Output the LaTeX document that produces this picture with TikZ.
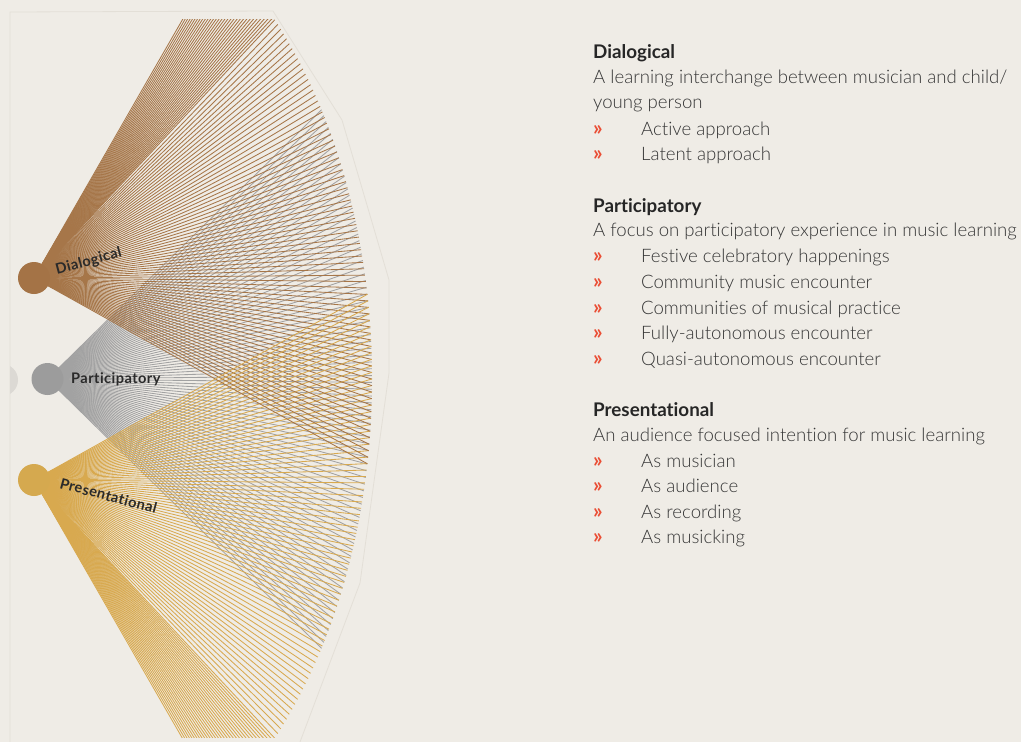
\documentclass[tikz,border=0pt]{standalone}
\usepackage{fontspec}
\setmainfont{Lato}[Ligatures=NoCommon]
\IfFontExistsTF{Lato Light}{\newfontfamily\bodyfont{Lato Light}[Ligatures=NoCommon]}{\newfontfamily\bodyfont{Lato}[Ligatures=NoCommon]}
\newfontfamily\labfont{Lato}[Ligatures=NoCommon, LetterSpace=3]
\definecolor{bg}{HTML}{EFECE6}
\definecolor{brownc}{HTML}{A47346}
\definecolor{greyc}{HTML}{9C9C9C}
\definecolor{goldc}{HTML}{D5A94F}
\definecolor{brownl}{HTML}{A67649}
\definecolor{greyl}{HTML}{A2A2A2}
\definecolor{goldl}{HTML}{D8A94F}
\definecolor{faint}{HTML}{E3DFD7}
\definecolor{ghost}{HTML}{DCD9D4}
\definecolor{bulletc}{HTML}{EA4E35}
\definecolor{headc}{HTML}{262626}
\definecolor{bodyc}{HTML}{363636}
\definecolor{labc}{HTML}{2A2A2A}
\tikzset{
  headtxt/.style={anchor=base west, inner sep=0pt, text=headc, font=\fontsize{18.8}{22}\selectfont\bfseries},
  bodytxt/.style={anchor=base west, inner sep=0pt, text=bodyc, font=\bodyfont\fontsize{18.6}{22}\selectfont},
  bul/.style={anchor=base west, inner sep=0pt, text=bulletc, font=\fontsize{21}{22}\selectfont\bfseries},
  hub/.style={circle, inner sep=0pt, minimum size=32pt},
  fanlabel/.style={anchor=base west, inner sep=0pt, text=labc, font=\labfont\fontsize{14.6}{17}\selectfont\bfseries},
  brownline/.style={draw=brownl, line width=0.85pt},
  greyline/.style={draw=greyl, line width=0.85pt},
  goldline/.style={draw=goldl, line width=0.85pt},
}
\begin{document}
\begin{tikzpicture}[x=1pt,y=-1pt]
\fill[bg] (0,0) rectangle (1021,742);
\useasboundingbox (0,0) rectangle (1021,742);
% faint panel outline
\draw[faint, line width=0.8pt] (10,742) -- (10,12) -- (273,11) -- (342,120) -- (389,280) -- (389,373) -- (360,583) -- (300,742);
% ghost circle
\begin{scope}
\clip (10,0) rectangle (40,742);
\fill[ghost] (2,380) circle (16);
\end{scope}
% apexes
\coordinate (dA) at (34,278);
\coordinate (pA) at (47.5,379);
\coordinate (sA) at (34,480);
% fans
\begin{scope}
\clip (0,19) rectangle (420,737);
\foreach \i in {0,...,83}{
  \pgfmathsetmacro\t{32-64*\i/83}
  \draw[greyline] (pA) -- ({40+332*cos(\t)},{379-508*sin(\t)});
}
\foreach \i in {0,...,30}{
  \pgfmathsetmacro\t{57-12*\i/31}
  \draw[brownline] (dA) -- ({40+332*cos(\t)},{379-508*sin(\t)});
  \draw[goldline] (sA) -- ({40+332*cos(-\t)},{379-508*sin(-\t)});
}
\foreach \i in {0,...,74}{
  \pgfmathsetmacro\t{45-54.6*\i/74}
  \draw[brownline] (dA) -- ({40+332*cos(\t)},{379-508*sin(\t)});
  \draw[goldline] (sA) -- ({40+332*cos(-\t)},{379-508*sin(-\t)});
}
\end{scope}
% hubs
\node[hub, fill=brownc] (dial) at (dA) {};
\node[hub, fill=greyc] (part) at (pA) {};
\node[hub, fill=goldc] (pres) at (sA) {};
\node[fanlabel, rotate=15] (dlab) at (57,274.5) {Dialogical};
\node[fanlabel] (plab) at (71,383) {Participatory};
\node[fanlabel, rotate=-15] (slab) at (59,488) {Presentational};
% text column
\node[headtxt] (h1) at (593,58) {Dialogical};
\node[bodytxt] (b1a) at (593,83.3) {A learning interchange between musician and child/};
\node[bodytxt] (b1b) at (593,108.5) {young person};
\node[bul] (u11) at (593,135) {»};
\node[bodytxt] (t11) at (641,135) {Active approach};
\node[bul] (u12) at (593,160.3) {»};
\node[bodytxt] (t12) at (641,160.3) {Latent approach};

\node[headtxt] (h2) at (593,212.7) {Participatory};
\node[bodytxt] (b2) at (593,236.8) {A focus on participatory experience in music learning};
\node[bul] (u21) at (593,262.5) {»};
\node[bodytxt] (t21) at (641,262.5) {Festive celebratory happenings};
\node[bul] (u22) at (593,288) {»};
\node[bodytxt] (t22) at (641,288) {Community music encounter};
\node[bul] (u23) at (593,314) {»};
\node[bodytxt] (t23) at (641,314) {Communities of musical practice};
\node[bul] (u24) at (593,339.7) {»};
\node[bodytxt] (t24) at (641,339.7) {Fully-autonomous encounter};
\node[bul] (u25) at (593,365) {»};
\node[bodytxt] (t25) at (641,365) {Quasi-autonomous encounter};

\node[headtxt] (h3) at (593,416.7) {Presentational};
\node[bodytxt] (b3) at (593,441.8) {An audience focused intention for music learning};
\node[bul] (u31) at (593,467.2) {»};
\node[bodytxt] (t31) at (641,467.2) {As musician};
\node[bul] (u32) at (593,492.7) {»};
\node[bodytxt] (t32) at (641,492.7) {As audience};
\node[bul] (u33) at (593,518.3) {»};
\node[bodytxt] (t33) at (641,518.3) {As recording};
\node[bul] (u34) at (593,543.7) {»};
\node[bodytxt] (t34) at (641,543.7) {As musicking};
\end{tikzpicture}
\end{document}
